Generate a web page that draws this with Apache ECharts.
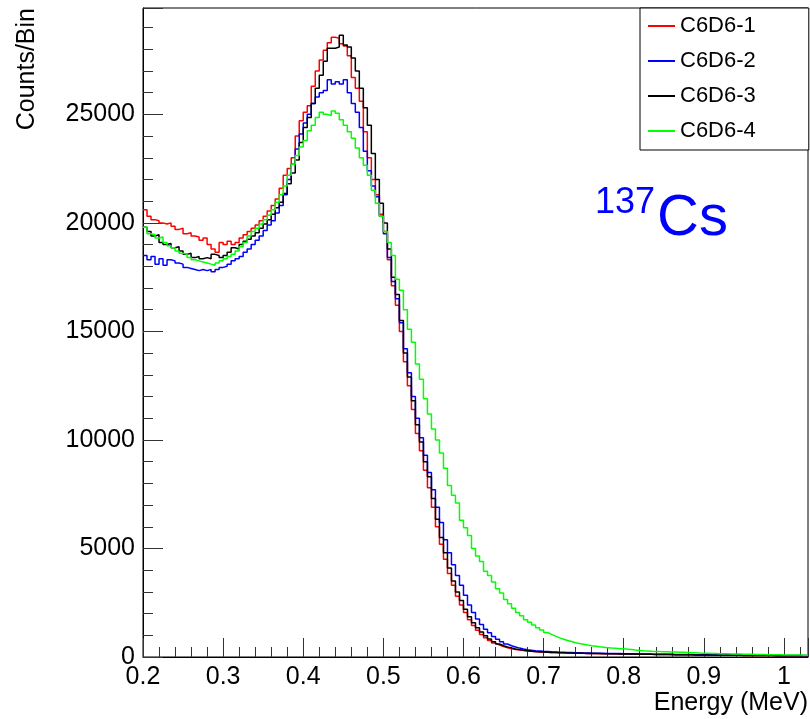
<!DOCTYPE html>
<html><head><meta charset="utf-8">
<script src="https://cdn.jsdelivr.net/npm/echarts@6/dist/echarts.min.js"></script>
<style>html,body{margin:0;padding:0;background:#fff}#c{width:810px;height:719px}</style>
</head><body><div id="c"></div>
<script>
// Histogram binning (MeV)
const binStart = 0.2;
const binWidth = 0.005;
const xMin = 0.2, xMax = 1.03;
const yMin = 0, yMax = 29900;
const seriesNames = ['C6D6-1', 'C6D6-2', 'C6D6-3', 'C6D6-4'];
const seriesColors = ['#ff0000', '#0000ff', '#000000', '#00ff00'];
const xTitle = 'Energy (MeV)';
const yTitle = 'Counts/Bin';

const c6d6_1 = [
20600,20300,20150,20100,20000,19950,20000,19850,19700,19750,
19500,19550,19400,19350,19200,19300,19000,18800,18650,19100,
19000,19150,19000,19100,19300,19450,19600,19750,19900,20100,
20300,20550,20800,21100,21600,22200,22500,23000,24000,24700,
25100,25400,26300,27000,27500,27950,28300,28550,28500,28250,
28150,27700,26700,26200,25600,24200,23000,22000,21300,20400,
19600,18300,17100,16200,15000,13600,12500,11400,10300,9500,
8600,7800,6900,6000,5200,4500,3850,3300,2800,2400,
2050,1720,1450,1230,1040,890,760,640,550,480,
420,380,345,320,295,275,260,245,235,225,
218,210,207,196,193,186,186,177,172,171,
164,163,160,155,154,148,148,143,141,137,
137,132,133,127,127,122,123,118,117,113,
113,108,109,104,104,99,100,96,94,92,
91,88,87,84,84,81,79,78,77,74,
74,71,71,69,68,66,65,64,62,61,
61,59,58,57,55,55
];
const c6d6_2 = [
18500,18300,18450,18100,18350,18050,18300,18250,18150,18100,
17950,17900,17850,17800,17850,17800,17850,17750,17850,17950,
18000,18100,18250,18350,18450,18650,18800,19000,19200,19400,
19650,19900,20100,20450,20800,21300,22000,22700,23400,24100,
24600,25000,25500,25800,26000,26100,26600,26400,26500,26400,
26600,26000,25500,25100,24400,23300,22400,21700,21200,20300,
19500,18400,17300,16500,15400,14200,13100,12000,11000,10100,
9300,8500,7700,6900,6200,5400,4800,4250,3750,3300,
2850,2400,2050,1750,1500,1280,1120,950,820,700,
600,520,460,410,370,335,310,290,275,260,
250,240,232,224,219,210,206,198,195,188,
186,180,178,172,170,165,164,158,157,152,
150,147,144,142,138,137,133,132,128,127,
123,122,119,117,115,112,111,108,106,104,
102,100,98,96,95,92,91,89,88,86,
84,83,81,80,78,77,75,74,73,71,
70,69,67,66,65,64
];
const c6d6_3 = [
19800,19600,19400,19450,19100,19000,19050,18850,18900,18700,
18550,18600,18400,18450,18350,18400,18350,18550,18500,18400,
18500,18650,18850,18800,19000,19150,19250,19400,19550,19750,
19950,20150,20400,20700,20950,21350,21800,22300,22900,23700,
24400,24850,25500,26200,26800,27450,28050,28050,28100,28650,
28200,28100,27600,27000,26200,25300,24500,23200,22000,20900,
20000,18800,17500,16700,15500,14000,12900,11800,10700,9900,
9000,8300,7300,6350,5500,4800,4100,3500,3000,2600,
2200,1850,1580,1350,1150,980,830,700,600,520,
460,420,370,340,310,290,270,250,240,230,
220,212,205,198,196,188,185,178,176,170,
166,165,158,160,152,150,147,146,140,141,
136,135,131,130,126,125,121,120,116,115,
112,110,107,106,102,100,99,95,94,91,
90,87,86,84,83,80,80,77,76,74,
73,71,70,68,67,66,64,63,62,60,
60,58,57,56,55,54
];
const c6d6_4 = [
19800,19500,19450,19300,19350,19100,18950,18850,18700,18600,
18550,18400,18300,18250,18200,18150,18100,18050,18150,18250,
18350,18450,18550,18700,18900,19100,19400,19600,19750,19950,
20150,20350,20600,20950,21300,21700,22200,22700,23100,23500,
23800,24250,24500,24850,25100,25000,24950,25150,25050,24750,
24500,24200,23900,23450,23000,22650,22200,21500,20900,20300,
19600,19100,18500,17400,16900,16000,15100,14500,13500,12800,
11900,11200,10500,10000,9400,8700,7900,7450,7100,6300,
5950,5600,5000,4650,4400,3950,3750,3450,3150,2950,
2650,2450,2250,2050,1900,1720,1600,1480,1350,1240,
1130,1040,960,880,820,760,710,660,620,590,
550,520,500,470,450,430,410,400,385,375,
360,340,320,305,285,275,265,258,250,245,
240,232,228,222,215,208,200,193,185,178,
172,165,160,155,150,146,142,138,134,130,
126,122,118,115,112,108,105,102,99,96,
94,92,90,88,86,84
];
const seriesValues = [c6d6_1, c6d6_2, c6d6_3, c6d6_4];

const FONT = '"Liberation Sans", Arial, Helvetica, sans-serif';

// bin edges -> step polyline (each bin drawn flat over its width)
function toSteps(vals) {
  const pts = vals.map((v, i) => [+(binStart + i * binWidth).toFixed(4), v]);
  pts.push([+(binStart + vals.length * binWidth).toFixed(4), vals[vals.length - 1]]);
  return pts;
}

const chart = echarts.init(document.getElementById('c'), null, {renderer: 'canvas'});
chart.setOption({
  animation: false,
  backgroundColor: '#fff',
  grid: {left: 143, right: 2, top: 8, bottom: 62, containLabel: false, outerBoundsMode: 'none',
         show: true, borderColor: '#000', borderWidth: 1, backgroundColor: 'transparent'},
  xAxis: {
    type: 'value', min: xMin, max: xMax, interval: 0.1,
    axisLine: {lineStyle: {color: '#000', width: 1}},
    axisTick: {inside: true, length: 19, lineStyle: {color: '#333', width: 1}},
    minorTick: {show: true, splitNumber: 5, length: 10, lineStyle: {color: '#333', width: 1}},
    axisLabel: {fontSize: 25, fontFamily: FONT, color: '#000', margin: 8, showMaxLabel: false,
      formatter: v => String(Number(v.toFixed(2)))},
    splitLine: {show: false}
  },
  yAxis: {
    type: 'value', min: yMin, max: yMax, interval: 5000,
    axisLine: {show: true, lineStyle: {color: '#000', width: 1}},
    axisTick: {show: true, inside: true, length: 20, lineStyle: {color: '#333', width: 1}},
    minorTick: {show: true, splitNumber: 5, length: 10, lineStyle: {color: '#333', width: 1}},
    axisLabel: {fontSize: 25, fontFamily: FONT, color: '#000', margin: 8, showMaxLabel: false,
      formatter: v => String(v)},
    splitLine: {show: false}
  },
  legend: {
    orient: 'vertical', left: 640, top: 8,
    padding: [7, 53, 8, 8], itemGap: 13, itemWidth: 27, itemHeight: 2, icon: 'rect',
    backgroundColor: '#fff', borderColor: '#000', borderWidth: 1, borderRadius: 0,
    textStyle: {fontSize: 22, fontFamily: FONT, color: '#000', lineHeight: 22},
    data: seriesNames
  },
  graphic: [
    {type: 'text', x: 27, y: 8, rotation: Math.PI / 2,
     style: {text: yTitle, fontSize: 25, fontFamily: FONT, fill: '#000', align: 'right', verticalAlign: 'middle'}},
    {type: 'text', x: 808, y: 703,
     style: {text: xTitle, fontSize: 25, fontFamily: FONT, fill: '#000', align: 'right', verticalAlign: 'middle'}},
    {type: 'text', x: 595, y: 203,
     style: {text: '137', fontSize: 36, fontFamily: FONT, fill: '#0000ff', align: 'left', verticalAlign: 'middle'}},
    {type: 'text', x: 657, y: 219,
     style: {text: 'Cs', fontSize: 58, fontFamily: FONT, fill: '#0000ff', align: 'left', verticalAlign: 'middle'}}
  ],
  series: seriesNames.map((n, k) => ({
    name: n, type: 'line', step: 'end', symbol: 'none', showSymbol: false,
    data: toSteps(seriesValues[k]), color: seriesColors[k],
    lineStyle: {color: seriesColors[k], width: 1.5}, clip: true
  }))
});
</script></body></html>
